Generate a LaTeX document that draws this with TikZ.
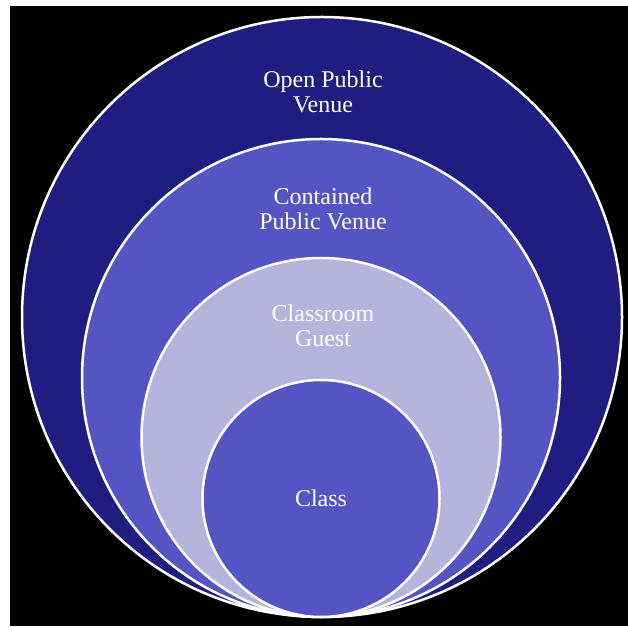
\documentclass[tikz,border=0pt]{standalone}
\usepackage{fontspec}
\setmainfont{Liberation Serif}
\usetikzlibrary{positioning}
\definecolor{venuenavy}{RGB}{31,30,128}
\definecolor{venueblue}{RGB}{84,84,194}
\definecolor{guestlilac}{RGB}{180,180,220}
\begin{document}
\begin{tikzpicture}[x=1pt, y=1pt,
    ring/.style={draw=white, line width=2.5pt, circle, inner sep=0pt},
    tag/.style={text=white, align=center, inner sep=0pt, font=\fontsize{24}{25}\selectfont}]
    \useasboundingbox (0,0) rectangle (628,626);
    \fill[black] (10,0) rectangle (628,620);
    % nested circles, all touching at the bottom
    \node[ring, fill=venuenavy, minimum size=600pt] (openv) at (322,309) {};
    \node[ring, fill=venueblue, minimum size=478pt] (contv) at (321,248) {};
    \node[ring, fill=guestlilac, minimum size=359pt] (guest) at (321,188.5) {};
    \node[ring, fill=venueblue, minimum size=237pt] (class) at (321,127.5) {};
    % labels
    \node[tag] (openlbl) at (323,534) {Open Public\\Venue};
    \node[tag] (contlbl) at (323,417.5) {Contained\\Public Venue};
    \node[tag] (guestlbl) at (323,300.5) {Classroom\\Guest};
    \node[tag] (classlbl) at (class) {Class};
\end{tikzpicture}
\end{document}
